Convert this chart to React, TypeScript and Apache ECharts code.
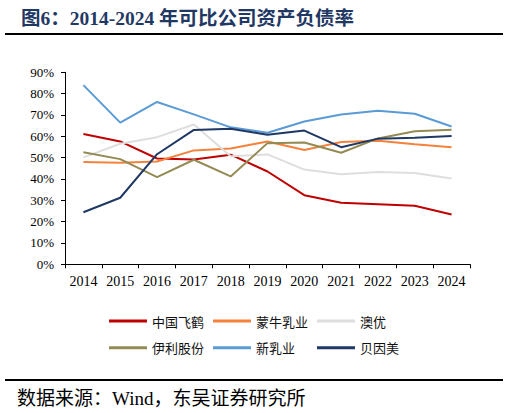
import React, { useEffect, useRef } from "react";
import * as echarts from "echarts";

const years = ["2014", "2015", "2016", "2017", "2018", "2019", "2020", "2021", "2022", "2023", "2024"];
const feihe = [61.1, 57.6, 49.6, 49.1, 51.4, 43.5, 32.4, 28.9, 28.2, 27.4, 23.3];
const mengniu = [48.0, 47.6, 48.2, 53.4, 54.3, 57.6, 53.6, 57.3, 57.9, 56.3, 54.9];
const aoyou = [50.1, 56.5, 59.6, 65.5, 50.6, 51.5, 44.4, 42.2, 43.3, 42.8, 40.2];
const yili = [52.5, 49.3, 40.9, 49.0, 41.2, 56.8, 57.1, 52.3, 59.0, 62.4, 63.1];
const xinru = [84.0, 66.4, 76.1, 70.3, 64.2, 61.7, 66.9, 70.2, 72.0, 70.6, 64.6];
const beiyinmei = [24.4, 31.2, 51.6, 63.0, 63.5, 60.7, 62.7, 54.9, 58.9, 59.3, 60.1];

const names = ["中国飞鹤", "蒙牛乳业", "澳优", "伊利股份", "新乳业", "贝因美"];
const colors = ["#C00000", "#F4823C", "#DEDEDE", "#948A54", "#5B9BD5", "#1F3864"];
const values = [feihe, mengniu, aoyou, yili, xinru, beiyinmei];

const titleText = "图6：2014-2024 年可比公司资产负债率";
const sourceText = "数据来源：Wind，东吴证券研究所";

const serif = "'Liberation Serif', 'Times New Roman', 'Noto Sans CJK SC', serif";
const cjk = "'Noto Sans CJK SC', sans-serif";

export default function App() {
  const ref = useRef<HTMLDivElement>(null);
  useEffect(() => {
    document.body.style.margin = "0";
    const chart = echarts.init(ref.current!, undefined, { renderer: "svg" });
    const legendCol = (left: number, data: string[]) => ({
      orient: "vertical",
      left,
      top: 309,
      icon: "rect",
      itemWidth: 38,
      itemHeight: 3,
      itemGap: 12.7,
      data,
      textStyle: { fontSize: 13, lineHeight: 14, color: "#111", fontFamily: cjk },
    });
    chart.setOption({
      animation: false,
      backgroundColor: "#fff",
      title: {
        text: titleText,
        left: 16,
        top: 4,
        textStyle: { fontSize: 19.5, fontWeight: "bold", color: "#1F3864", fontFamily: serif },
      },
      legend: [
        legendCol(104, [names[0], names[3]]),
        legendCol(208, [names[1], names[4]]),
        legendCol(312, [names[2], names[5]]),
      ],
      grid: { left: 65, right: 39, top: 72.3, bottom: 148.7, containLabel: false },
      xAxis: {
        type: "category",
        data: years,
        boundaryGap: true,
        axisLine: { lineStyle: { color: "#000", width: 1 } },
        axisTick: { show: true, length: 4, inside: false, lineStyle: { color: "#000" } },
        axisLabel: { color: "#000", fontSize: 14, fontFamily: serif, margin: 10 },
      },
      yAxis: {
        type: "value",
        min: 0,
        max: 90,
        interval: 10,
        splitLine: { show: false },
        axisLine: { show: true, lineStyle: { color: "#000", width: 1 } },
        axisTick: { show: true, length: 4, lineStyle: { color: "#000" } },
        axisLabel: { color: "#000", fontSize: 13, fontFamily: serif, margin: 11, formatter: "{value}%" },
      },
      series: names.map((n, i) => ({
        name: n,
        type: "line",
        data: values[i],
        showSymbol: false,
        symbol: "none",
        lineStyle: { color: colors[i], width: 2 },
        itemStyle: { color: colors[i] },
      })),
      graphic: [
        { type: "line", shape: { x1: 5, y1: 34, x2: 503, y2: 34 }, style: { stroke: "#000", lineWidth: 2 } },
        { type: "line", shape: { x1: 5, y1: 380, x2: 503, y2: 380 }, style: { stroke: "#000", lineWidth: 2 } },
        {
          type: "text",
          x: 17,
          y: 398,
          style: {
            text: sourceText,
            fontSize: 19,
            fill: "#000",
            fontFamily: serif,
            textVerticalAlign: "middle",
          },
        },
      ],
    });
    return () => chart.dispose();
  }, []);
  return <div ref={ref} style={{ position: "absolute", left: 0, top: 0, width: 509, height: 413 }} />;
}
